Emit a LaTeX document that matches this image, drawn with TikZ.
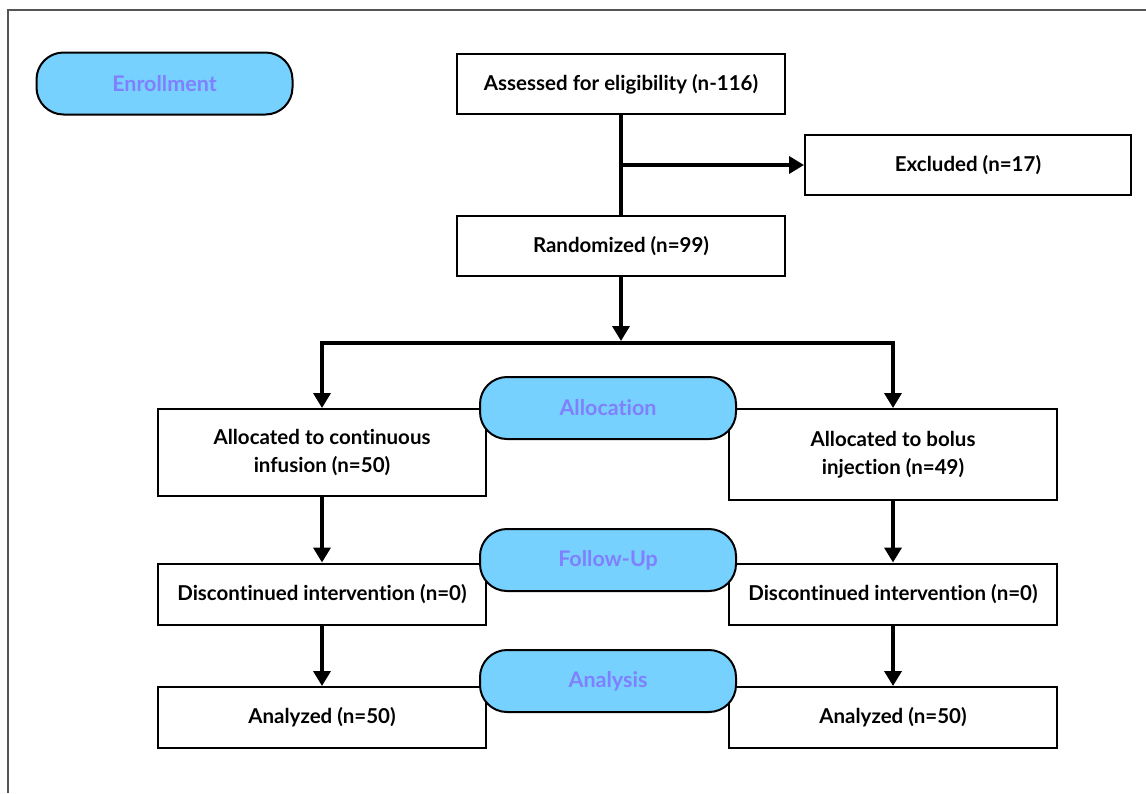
\documentclass[tikz,border=0pt]{standalone}
\usepackage{fontspec}
\setmainfont{Lato}[Ligatures=NoCommon]
\usepackage{tikz}
\usetikzlibrary{arrows.meta,positioning,calc}
\definecolor{pillblue}{RGB}{119,209,254}
\definecolor{pilltext}{RGB}{128,128,255}
\definecolor{framegray}{RGB}{85,85,85}

\begin{document}
\begin{tikzpicture}[
    x=1pt, y=-1pt,
    font=\fontsize{20.5}{28}\selectfont\bfseries,
    box/.style={rectangle, draw, line width=2pt, minimum width=328pt, minimum height=60pt, align=center, fill=white, inner sep=0pt},
    pill/.style={rectangle, draw, line width=2pt, rounded corners=27pt, minimum width=256pt, minimum height=62pt, fill=pillblue, text=pilltext, font=\fontsize{21.5}{26}\selectfont\bfseries},
    arrow/.style={-{Triangle[width=17pt,length=15pt]}, line width=3.6pt},
    link/.style={line width=3.6pt}
]
    \useasboundingbox (0,0) rectangle (1146,793);
    % Frame
    \draw[framegray, line width=2pt] (1146,10) -- (8,10) -- (8,793);

    % Enrollment
    \node[pill] (enroll) at (164.5,83.5) {Enrollment};
    \node[box] (assess) at (621,84) {Assessed for eligibility (n-116)};
    \node[box, minimum width=326pt] (excl) at (968,165) {Excluded (n=17)};
    \node[box] (rand) at (621,246) {Randomized (n=99)};

    % Allocation
    \node[box, minimum height=87pt] (allocL) at (322,452.5) {Allocated to continuous\\infusion (n=50)};
    \node[box, minimum height=91pt] (allocR) at (893,454.5) {Allocated to bolus\\injection (n=49)};

    % Follow-Up
    \node[box, minimum height=61pt] (discL) at (322,594) {Discontinued intervention (n=0)};
    \node[box, minimum height=61pt] (discR) at (893,594) {Discontinued intervention (n=0)};

    % Analysis
    \node[box, minimum height=61pt] (anL) at (322,717.5) {Analyzed (n=50)};
    \node[box, minimum height=61pt] (anR) at (893,717.5) {Analyzed (n=50)};

    % Stage labels
    \node[pill] (allocation) at (608,408) {Allocation};
    \node[pill] (followup) at (608,560) {Follow-Up};
    \node[pill] (analysis) at (608,681) {Analysis};

    % Arrows
    \coordinate (split) at (621,343);
    \draw[link] (assess.south) -- (rand.north);
    \draw[arrow] (assess.south |- excl.west) -- (excl.west);
    \draw[arrow, shorten >=2pt] (rand.south) -- (split);
    \draw[arrow, line join=miter] (split) -| (allocL.north);
    \draw[arrow, line join=miter] (split) -| (allocR.north);
    \foreach \a/\b in {allocL/discL, discL/anL, allocR/discR, discR/anR} {
        \draw[arrow] (\a.south) -- (\b.north);
    }
\end{tikzpicture}
\end{document}
